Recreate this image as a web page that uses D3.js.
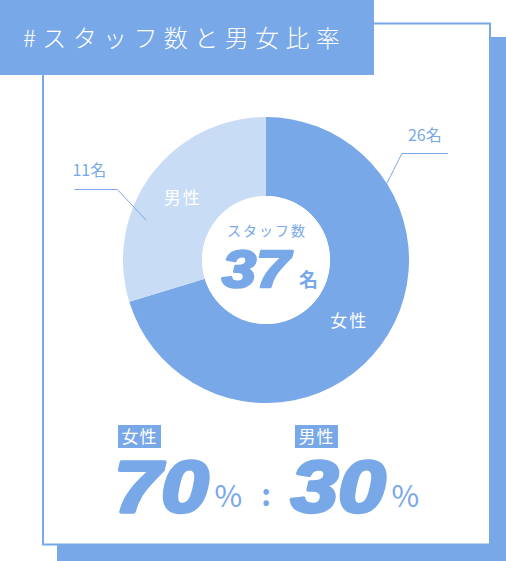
<!DOCTYPE html>
<html>
<head>
<meta charset="utf-8">
<script src="https://cdn.jsdelivr.net/npm/d3@7"></script>
<style>
  html, body { margin: 0; padding: 0; background: #fff; }
  svg { display: block; }
</style>
</head>
<body>
<div id="chart"></div>
<script>
// スタッフ数と男女比率 - D3.js
const categories = ['女性', '男性'];
const counts = [26, 11];
const titleText = '#スタッフ数と男女比率';
const centerLabel = 'スタッフ数';
const unitLabel = '名';

(function() {
  'use strict';

  const W = 506, H = 561;
  const BLUE = '#78a8e8';
  const LIGHT = '#c8dcf5';
  const JP = '"Noto Sans CJK JP", "Noto Sans", sans-serif';
  const NUM = '"Liberation Sans", Arial, sans-serif';

  const svg = d3.select('#chart').append('svg')
    .attr('width', W).attr('height', H)
    .attr('viewBox', `0 0 ${W} ${H}`);

  // 太字の数字（横に少し広げる）
  function bigNumber(parent, x, y, size, sx, stroke, value) {
    const t = parent.append('text')
      .attr('transform', `translate(${x},${y}) scale(${sx},1)`)
      .attr('fill', BLUE)
      .attr('stroke', BLUE)
      .attr('stroke-width', stroke)
      .attr('stroke-linejoin', 'round')
      .attr('font-family', NUM)
      .attr('font-size', size)
      .attr('font-weight', 700)
      .attr('font-style', 'italic')
      .text(value);
    return t.node().getComputedTextLength() * sx;
  }

  // 背景の影とフレーム
  svg.append('rect')
    .attr('x', 57).attr('y', 37).attr('width', 470).attr('height', 540)
    .attr('fill', BLUE);
  svg.append('rect')
    .attr('x', 43).attr('y', 23.5).attr('width', 447).attr('height', 521)
    .attr('fill', '#fff').attr('stroke', BLUE).attr('stroke-width', 2);

  // タイトル
  svg.append('rect')
    .attr('x', 0).attr('y', 0).attr('width', 374).attr('height', 75)
    .attr('fill', BLUE);
  svg.append('text')
    .attr('x', 23).attr('y', 47)
    .attr('fill', '#fff')
    .attr('font-family', JP)
    .attr('font-size', 24)
    .attr('font-weight', 300)
    .attr('letter-spacing', 6.4)
    .text(titleText);

  // ドーナツ
  const cx = 266, cy = 260;
  const outerR = 143, innerR = 64;
  const total = d3.sum(counts);
  const data = categories.map((c, i) => ({ name: c, value: counts[i] }));

  const pie = d3.pie().sort(null).value(d => d.value);
  const arcs = pie(data);
  const arc = d3.arc().innerRadius(innerR).outerRadius(outerR);
  const color = d3.scaleOrdinal().domain(categories).range([BLUE, LIGHT]);

  const g = svg.append('g').attr('transform', `translate(${cx},${cy})`);

  g.selectAll('path.slice')
    .data(arcs)
    .enter().append('path')
    .attr('class', 'slice')
    .attr('d', arc)
    .attr('fill', d => color(d.data.name));

  g.selectAll('text.slice-label')
    .data(arcs)
    .enter().append('text')
    .attr('class', 'slice-label')
    .attr('transform', d => `translate(${arc.centroid(d)})`)
    .attr('text-anchor', 'middle')
    .attr('dy', '0.35em')
    .attr('fill', '#fff')
    .attr('font-family', JP)
    .attr('font-size', 17)
    .attr('letter-spacing', 2)
    .text(d => d.data.name);

  // 引き出し線
  const callouts = {
    '女性': { frac: 0.228, r: outerR, elbow: [15, -30], len: 46, textOff: 23, anchor: 'middle' },
    '男性': { frac: 0.33, r: 126, elbow: [-29, -31], len: -43, textOff: -45, anchor: 'start' }
  };
  arcs.forEach(d => {
    const c = callouts[d.data.name];
    const a = d.startAngle + (d.endAngle - d.startAngle) * c.frac;
    const p0 = [c.r * Math.sin(a), -c.r * Math.cos(a)];
    const p1 = [p0[0] + c.elbow[0], p0[1] + c.elbow[1]];
    const p2 = [p1[0] + c.len, p1[1]];
    g.append('path')
      .attr('d', d3.line()([p0, p1, p2]))
      .attr('fill', 'none')
      .attr('stroke', BLUE)
      .attr('stroke-width', 1);
    g.append('text')
      .attr('x', p1[0] + c.textOff)
      .attr('y', p1[1] - 13)
      .attr('text-anchor', c.anchor)
      .attr('fill', BLUE)
      .attr('font-family', JP)
      .attr('font-size', 16)
      .text(d.data.value + unitLabel);
  });

  // 中央
  g.append('circle').attr('r', innerR).attr('fill', '#fff');
  g.append('text')
    .attr('x', 1).attr('y', -24)
    .attr('text-anchor', 'middle')
    .attr('fill', BLUE)
    .attr('font-family', JP)
    .attr('font-size', 14)
    .attr('letter-spacing', 2)
    .text(centerLabel);
  const wTotal = bigNumber(g, -44, 27, 51, 1.2, 2.5, total);
  g.append('text')
    .attr('x', -44 + wTotal + 9).attr('y', 27)
    .attr('fill', BLUE)
    .attr('font-family', JP)
    .attr('font-size', 19)
    .attr('font-weight', 700)
    .text(unitLabel);

  // 比率
  const pct = counts.map(v => Math.round(v / total * 100));
  const ratioX = [115, 292];
  categories.forEach((c, i) => {
    const bx = ratioX[i] + 3;
    svg.append('rect')
      .attr('x', bx).attr('y', 425).attr('width', 43).attr('height', 23)
      .attr('fill', BLUE);
    svg.append('text')
      .attr('x', bx + 21.5).attr('y', 443)
      .attr('text-anchor', 'middle')
      .attr('fill', '#fff')
      .attr('font-family', JP)
      .attr('font-size', 17)
      .attr('letter-spacing', 1)
      .text(c);
    const w = bigNumber(svg, ratioX[i] - 1, 512, 72, 1.18, 3.5, pct[i]);
    svg.append('text')
      .attr('x', ratioX[i] - 1 + w + 6).attr('y', 507)
      .attr('fill', BLUE)
      .attr('font-family', JP)
      .attr('font-size', 30)
      .attr('font-weight', 400)
      .text('%');
  });
  svg.append('text')
    .attr('x', 266).attr('y', 506)
    .attr('text-anchor', 'middle')
    .attr('fill', BLUE)
    .attr('font-family', JP)
    .attr('font-size', 30)
    .attr('font-weight', 700)
    .text(':');
})();
</script>
</body>
</html>
